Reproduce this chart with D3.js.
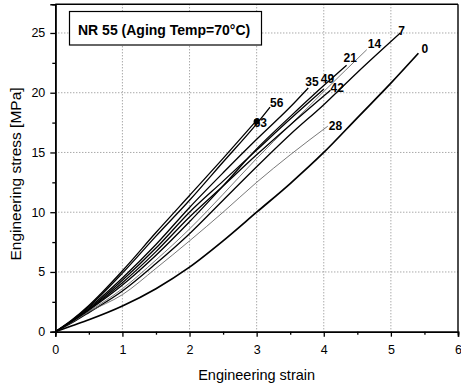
<!DOCTYPE html>
<html>
<head>
<meta charset="utf-8">
<script src="https://cdn.jsdelivr.net/npm/d3@7"></script>
<style>
  body { margin: 0; background: #fff; }
  text { font-family: "Liberation Sans", Arial, sans-serif; }
</style>
</head>
<body>
<div id="chart"></div>
<script>
// aging days for each curve, and the curves themselves [strain, stress MPa]
var agingDays = ["0", "7", "14", "21", "28", "35", "42", "49", "56", "63"];

var day0  = [[0,0],[0.25,0.5],[0.5,1.0],[1,2.15],[1.5,3.6],[2,5.4],[2.5,7.6],[3,10.0],[3.5,12.4],[4,15.0],[4.5,17.9],[5,20.8],[5.41,23.3]];
var day7  = [[0,0],[0.25,0.75],[0.5,1.6],[1,3.4],[1.5,5.7],[2,8.2],[2.5,11.0],[3,13.8],[3.5,16.5],[4,19.0],[4.5,21.7],[5.14,25.0]];
var day14 = [[0,0],[0.25,0.8],[0.5,1.7],[1,3.6],[1.5,6.0],[2,8.6],[2.5,11.5],[3,14.5],[3.5,17.3],[4,20.1],[4.64,23.6]];
var day21 = [[0,0],[0.25,0.85],[0.5,1.8],[1,3.9],[1.5,6.4],[2,9.2],[2.5,12.2],[3,15.3],[3.5,18.0],[4,20.6],[4.34,22.3]];
var day28 = [[0,0],[0.25,0.8],[0.5,1.65],[1,3.1],[1.5,5.3],[2,7.6],[2.5,10.0],[3,12.5],[3.5,14.8],[4.06,17.2]];
var day35 = [[0,0],[0.25,0.9],[0.5,2.0],[1,4.5],[1.5,7.3],[2,10.4],[2.5,13.3],[3,16.1],[3.5,18.8],[3.77,20.4]];
var day42 = [[0,0],[0.25,0.85],[0.5,1.85],[1,4.1],[1.5,6.7],[2,9.6],[2.5,12.2],[3,14.8],[3.5,17.3],[4.1,20.2]];
var day49 = [[0,0],[0.25,0.9],[0.5,1.9],[1,4.3],[1.5,7.0],[2,10.0],[2.5,12.6],[3,15.2],[3.5,17.8],[4.0,20.3]];
var day56 = [[0,0],[0.25,0.95],[0.5,2.1],[1,4.9],[1.5,8.0],[2,11.0],[2.5,14.2],[3,17.4],[3.2,18.8]];
var day63 = [[0,0],[0.25,1.0],[0.5,2.2],[1,5.1],[1.5,8.3],[2,11.4],[2.5,14.5],[2.97,17.5]];

var curves = [day0, day7, day14, day21, day28, day35, day42, day49, day56, day63];

var xTicks = [0, 1, 2, 3, 4, 5, 6];
var yTicks = [0, 5, 10, 15, 20, 25];

function main() {
    var W = 461, H = 388;
    var left = 55.3, right = 458, top = 4.3, bottom = 331.7;

    var svg = d3.select("#chart").append("svg")
        .attr("width", W).attr("height", H);

    var x = d3.scaleLinear().domain([0, 6]).range([left, right]);
    var y = d3.scaleLinear().domain([0, 27.4]).range([bottom, top]);

    // dotted grid
    svg.append("g").selectAll("line.gx")
        .data(xTicks.slice(1, -1)).enter().append("line")
        .attr("x1", d => x(d)).attr("x2", d => x(d))
        .attr("y1", top).attr("y2", bottom)
        .attr("stroke", "#777").attr("stroke-width", 0.9)
        .attr("stroke-dasharray", "1,2");
    svg.append("g").selectAll("line.gy")
        .data(yTicks.slice(1)).enter().append("line")
        .attr("x1", left).attr("x2", right)
        .attr("y1", d => y(d)).attr("y2", d => y(d))
        .attr("stroke", "#777").attr("stroke-width", 0.9)
        .attr("stroke-dasharray", "1,2");

    // axes (outward ticks, minor at half steps)
    var xAxis = d3.axisBottom(x).tickValues(xTicks).tickSize(5).tickPadding(8).tickFormat(d3.format("d"));
    var xMinor = d3.axisBottom(x).tickValues(d3.range(0.5, 6, 1)).tickSize(3).tickFormat("");
    var yAxis = d3.axisLeft(y).tickValues(yTicks).tickSize(5).tickPadding(5).tickFormat(d3.format("d"));
    var yMinor = d3.axisLeft(y).tickValues(d3.range(2.5, 27, 5)).tickSize(3).tickFormat("");

    [xAxis, xMinor].forEach(function(a) {
        svg.append("g").attr("transform", "translate(0," + bottom + ")").call(a);
    });
    [yAxis, yMinor].forEach(function(a) {
        svg.append("g").attr("transform", "translate(" + left + ",0)").call(a);
    });
    svg.selectAll(".domain").attr("stroke", "#000").attr("stroke-width", 1.6);
    svg.selectAll(".tick line").attr("stroke", "#000").attr("stroke-width", 1.3);
    svg.selectAll(".tick text").attr("font-size", 12.5).attr("fill", "#000")
        .attr("font-family", "Liberation Sans, Arial, sans-serif");

    // frame top / right
    svg.append("line").attr("x1", left).attr("x2", right).attr("y1", top).attr("y2", top)
        .attr("stroke", "#000").attr("stroke-width", 1.4);
    svg.append("line").attr("x1", right).attr("x2", right).attr("y1", top).attr("y2", bottom)
        .attr("stroke", "#000").attr("stroke-width", 1.4);

    // curves
    var line = d3.line()
        .x(d => x(d[0])).y(d => y(d[1]))
        .curve(d3.curveMonotoneX);

    var thin = { "14": true, "28": true };
    svg.append("g").selectAll("path.curve")
        .data(curves).enter().append("path")
        .attr("class", "curve")
        .attr("d", line)
        .attr("fill", "none")
        .attr("stroke", (d, i) => thin[agingDays[i]] ? "#555" : "#000")
        .attr("stroke-width", (d, i) => thin[agingDays[i]] ? 0.8 : (agingDays[i] == "0" ? 1.7 : 1.3));

    // break marker on the 63-day curve
    var last63 = day63[day63.length - 1];
    svg.append("circle")
        .attr("cx", x(last63[0]) + 2).attr("cy", y(last63[1]) - 1)
        .attr("r", 3).attr("fill", "#000");

    // curve labels, offset from each curve end (px)
    var labelOffset = {
        "0": [3, 0], "7": [-2, 2], "14": [1, -2], "21": [-3, -3], "28": [1, 4],
        "35": [-3, -2], "42": [0, 2], "49": [-3, -6], "56": [0, 0], "63": [-1, 4]
    };
    svg.append("g").selectAll("text.lab")
        .data(curves).enter().append("text")
        .attr("x", (d, i) => x(d[d.length - 1][0]) + labelOffset[agingDays[i]][0])
        .attr("y", (d, i) => y(d[d.length - 1][1]) + labelOffset[agingDays[i]][1])
        .attr("font-size", 12).attr("font-weight", "bold")
        .text((d, i) => agingDays[i]);

    // title box
    svg.append("rect")
        .attr("x", 69.5).attr("y", 11.5).attr("width", 192).attr("height", 33.5)
        .attr("fill", "#fff").attr("stroke", "#000").attr("stroke-width", 1.2);
    svg.append("text")
        .attr("x", 78).attr("y", 35)
        .attr("font-size", 14).attr("font-weight", "bold")
        .text("NR 55 (Aging Temp=70°C)");

    // axis titles
    svg.append("text")
        .attr("x", (left + right) / 2).attr("y", 380)
        .attr("text-anchor", "middle").attr("font-size", 14.5)
        .text("Engineering strain");
    svg.append("text")
        .attr("transform", "translate(21,174) rotate(-90)")
        .attr("text-anchor", "middle").attr("font-size", 15.5)
        .text("Engineering stress [MPa]");
}

main();
</script>
</body>
</html>
